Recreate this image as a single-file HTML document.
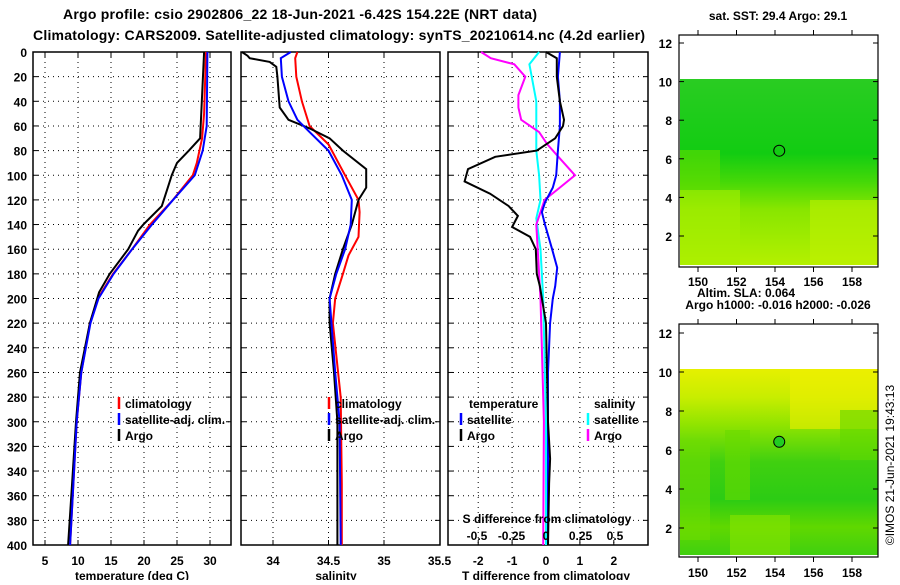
<!DOCTYPE html>
<html><head><meta charset="utf-8"><style>
body{margin:0;background:#fff;}
svg text{font-family:"Liberation Sans",Arial,sans-serif;font-weight:bold;fill:#000;}
</style></head><body>
<svg id="c" width="900" height="580" xmlns="http://www.w3.org/2000/svg">
<defs>
<linearGradient id="g1" x1="0" y1="0" x2="0" y2="1">
<stop offset="0" stop-color="#2acc22"/><stop offset="0.4" stop-color="#12cc12"/><stop offset="0.55" stop-color="#44d808"/><stop offset="0.7" stop-color="#88e600"/><stop offset="1" stop-color="#b4f000"/>
</linearGradient>
<linearGradient id="g2" x1="0" y1="0" x2="0" y2="1">
<stop offset="0" stop-color="#e6f000"/><stop offset="0.15" stop-color="#c8ee00"/><stop offset="0.3" stop-color="#90e400"/><stop offset="0.5" stop-color="#40d010"/><stop offset="0.7" stop-color="#2ccc14"/><stop offset="0.85" stop-color="#60d800"/><stop offset="1" stop-color="#40d010"/>
</linearGradient>
</defs>
<text x="63" y="19" font-size="14" textLength="474">Argo profile: csio 2902806_22 18-Jun-2021 -6.42S 154.22E (NRT data)</text>
<text x="33" y="40" font-size="14" textLength="612">Climatology: CARS2009. Satellite-adjusted climatology: synTS_20210614.nc (4.2d earlier)</text>
<g id="plots"></g>
<g id="maps"></g>
<text transform="translate(894,465) rotate(-90)" font-size="12" text-anchor="middle" style="font-weight:normal">©IMOS 21-Jun-2021 19:43:13</text>
</svg>
<script>
const tArgoDepth=[0,70,80,90,100,110,125,140,145,160,180,195,220,260,300,350,400];
const tArgo=[29.1,28.5,26.8,25,24.2,23.6,22.7,19.9,19.1,17.6,14.8,13.2,11.8,10.3,9.7,9.1,8.5];
const tClimDepth=[0,50,70,90,100,120,140,160,180,200,220,260,300,350,400];
const tClim=[29.4,29.1,28.8,28,27.4,24.4,20.9,18.2,15.3,13,11.8,10.5,9.8,9.3,8.8];
const tSatDepth=[0,60,80,100,120,140,160,180,200,220,260,300,350,400];
const tSat=[29.6,29.5,28.9,27.7,24.4,21.2,18.2,15.4,13.1,11.9,10.5,9.8,9.3,8.8];

const sArgoDepth=[0,3,5,8,12,20,45,55,62,70,80,95,110,120,140,160,180,200,220,260,300,400];
const sArgo=[33.72,33.77,33.79,33.97,34.03,34.04,34.06,34.14,34.33,34.51,34.63,34.84,34.84,34.77,34.71,34.63,34.56,34.51,34.51,34.55,34.58,34.58];
const sSatDepth=[0,5,20,40,55,65,80,100,120,140,160,180,200,260,300,400];
const sSat=[34.16,34.07,34.08,34.14,34.22,34.33,34.5,34.62,34.71,34.7,34.65,34.57,34.51,34.56,34.6,34.61];
const sClimDepth=[0,5,20,40,60,75,100,120,130,150,165,180,200,220,280,350,400];
const sClim=[34.22,34.2,34.21,34.26,34.33,34.5,34.65,34.77,34.78,34.77,34.68,34.63,34.56,34.54,34.61,34.62,34.62];

const dTArgoDepth=[0,5,20,40,55,60,70,80,85,95,105,115,125,133,142,150,160,180,190,200,220,300,330,350,400];
const dTArgo=[0,0.32,0.32,0.41,0.53,0.5,0.27,-0.27,-1.5,-2.3,-2.4,-1.65,-1.1,-0.83,-1.0,-0.47,-0.3,-0.27,-0.18,-0.12,0,0.06,0.12,0.09,0.06];
const dTSatDepth=[0,20,40,60,80,100,110,122,130,140,160,175,190,200,220,260,400];
const dTSat=[0.41,0.35,0.41,0.41,0.35,0.3,0.2,-0.03,-0.12,-0.03,0.18,0.33,0.27,0.2,0.12,0.06,0.06];
const dSSatDepth=[0,10,40,80,100,120,135,160,200,300,400];
const dSSat=[-0.05,-0.12,-0.07,-0.07,-0.05,-0.04,-0.07,-0.04,-0.02,0,0];
const dSArgoDepth=[0,5,10,20,35,45,55,65,75,85,100,110,120,130,140,160,200,300,400];
const dSArgo=[-0.47,-0.4,-0.23,-0.15,-0.2,-0.2,-0.18,-0.05,0.01,0.09,0.21,0.1,-0.01,-0.04,-0.07,-0.06,-0.04,-0.015,-0.02];

const depthTicks=[0,20,40,60,80,100,120,140,160,180,200,220,240,260,280,300,320,340,360,380,400];
const tTicks=[5,10,15,20,25,30];
const sTicks=[34,34.5,35,35.5];
const sTickLabels=["34","34.5","35","35.5"];
const dTicks=[-2,-1,0,1,2];
const dsTicks=[-0.5,-0.25,0,0.25,0.5];
const dsTickLabels=["-0.5","-0.25","0","0.25","0.5"];
const latTicks=[2,4,6,8,10,12];
const lonTicks=[150,152,154,156,158];

const NS='http://www.w3.org/2000/svg';
const plots=document.getElementById('plots');
const FS=12;
function mk(tag,attrs,parent,txt){const e=document.createElementNS(NS,tag);for(const k in attrs)e.setAttribute(k,attrs[k]);if(txt!==undefined)e.textContent=txt;(parent||plots).appendChild(e);return e;}
const Y0=52,Y1=545;
const yD=d=>Y0+d*(Y1-Y0)/400;
function lin(d0,d1,r0,r1){return v=>r0+(v-d0)*(r1-r0)/(d1-d0);}
const xT=lin(5,30,45,210);
const xS=lin(34,35,273,384);
const xD=lin(0,1,546,579.9);
const xDS=lin(0,0.5,546,615);

function panel(name,x0,x1,xs,ticks,xf,labels){
  const g=mk('g',{});
  
  
  ticks.forEach(t=>{const x=xf(t);if(x>x0+1&&x<x1-1){const l=mk('line',{x1:x,x2:x,y1:Y0,y2:Y1,stroke:'#000','stroke-width':1,'stroke-dasharray':'1 4'},g);
    
    mk('line',{x1:x,x2:x,y1:Y1,y2:Y1-5,stroke:'#000'},g);mk('line',{x1:x,x2:x,y1:Y0,y2:Y0+5,stroke:'#000'},g);}});
  depthTicks.forEach(d=>{const y=yD(d);if(d>0&&d<400){const l=mk('line',{x1:x0,x2:x1,y1:y,y2:y,stroke:'#000','stroke-width':1,'stroke-dasharray':'1 4'},g);
    }
    mk('line',{x1:x0,x2:x0+5,y1:y,y2:y,stroke:'#000'},g);mk('line',{x1:x1,x2:x1-5,y1:y,y2:y,stroke:'#000'},g);});
  const r=mk('rect',{x:x0,y:Y0,width:x1-x0,height:Y1-Y0,fill:'none',stroke:'#000','stroke-width':1.5},g);
  
  ticks.forEach((t,i)=>{const tx=mk('text',{x:xf(t),y:565,'font-size':FS,'text-anchor':'middle'},g,labels?labels[i]:String(t));
    });
  return g;
}
function line(g,ds,vs,xf,color,name){
  const pts=ds.map((d,i)=>xf(vs[i]).toFixed(1)+','+yD(d).toFixed(1)).join(' ');
  const p=mk('polyline',{points:pts,fill:'none',stroke:color,'stroke-width':2},g);
  
}
function legend(g,x,y,color,label,name){
  mk('line',{x1:x,x2:x,y1:y-11,y2:y+1,stroke:color,'stroke-width':2.5},g);
  const t=mk('text',{x:x+6,y:y,'font-size':FS},g,label);
  
}
depthTicks.forEach(d=>{const t=mk('text',{x:27,y:yD(d)+5,'font-size':FS,'text-anchor':'end'},plots,String(d));
  });

const p1=panel('temperature-panel',33,231,null,tTicks,xT);
line(p1,tClimDepth,tClim,xT,'#f00','climatology-temperature-line');
line(p1,tArgoDepth,tArgo,xT,'#000','argo-temperature-line');
line(p1,tSatDepth,tSat,xT,'#00f','satellite-adj-temperature-line');
legend(p1,119,408,'#f00','climatology','legend-climatology');
legend(p1,119,424,'#00f','satellite-adj. clim.','legend-satellite-adj');
legend(p1,119,440,'#000','Argo','legend-argo');
let at=mk('text',{x:132,y:580,'font-size':FS,'text-anchor':'middle'},p1,'temperature (deg C)');


const p2=panel('salinity-panel',241,440,null,sTicks,xS,sTickLabels);
line(p2,sClimDepth,sClim,xS,'#f00','climatology-salinity-line');
line(p2,sArgoDepth,sArgo,xS,'#000','argo-salinity-line');
line(p2,sSatDepth,sSat,xS,'#00f','satellite-adj-salinity-line');
legend(p2,329,408,'#f00','climatology','legend-climatology');
legend(p2,329,424,'#00f','satellite-adj. clim.','legend-satellite-adj');
legend(p2,329,440,'#000','Argo','legend-argo');
at=mk('text',{x:336,y:580,'font-size':FS,'text-anchor':'middle'},p2,'salinity');


const p3=panel('difference-panel',448,648,null,dTicks,xD);
line(p3,dSSatDepth,dSSat,xDS,'#0ff','satellite-salinity-diff-line');
line(p3,dSArgoDepth,dSArgo,xDS,'#f0f','argo-salinity-diff-line');
line(p3,dTSatDepth,dTSat,xD,'#00f','satellite-temperature-diff-line');
line(p3,dTArgoDepth,dTArgo,xD,'#000','argo-temperature-diff-line');
let lt=mk('text',{x:469,y:408,'font-size':FS},p3,'temperature');

lt=mk('text',{x:594,y:408,'font-size':FS},p3,'salinity');

legend(p3,461,424,'#00f','satellite','legend-temp-satellite');
legend(p3,461,440,'#000','Argo','legend-temp-argo');
legend(p3,588,424,'#0ff','satellite','legend-sal-satellite');
legend(p3,588,440,'#f0f','Argo','legend-sal-argo');
lt=mk('text',{x:547,y:523,'font-size':FS,'text-anchor':'middle'},p3,'S difference from climatology');

dsTicks.forEach((t,i)=>{const tx=mk('text',{x:xDS(t),y:540,'font-size':FS,'text-anchor':'middle'},p3,dsTickLabels[i]);
  });
at=mk('text',{x:546,y:580,'font-size':FS,'text-anchor':'middle'},p3,'T difference from climatology');


const maps=document.getElementById('maps');
function map(name,top,bot,y12,y2,colTop,colBot,grad,title,filled,lonY,blobs){
  const g=mk('g',{},maps);
  
  const yL=lin(12,2,y12,y2), xL=lin(150,158,698,852);
  const f=mk('rect',{x:680,y:colTop,width:198,height:colBot-colTop,fill:'url(#'+grad+')'},g);
  
  blobs.forEach(b=>mk('rect',{x:b[0],y:b[1],width:b[2],height:b[3],fill:b[4],opacity:0.6},g));
  const fr=mk('rect',{x:679,y:top,width:199,height:bot-top,fill:'none',stroke:'#000','stroke-width':1.2},g);
  
  latTicks.forEach(l=>{const y=yL(l);mk('line',{x1:679,x2:684,y1:y,y2:y,stroke:'#000'},g);mk('line',{x1:878,x2:873,y1:y,y2:y,stroke:'#000'},g);
    const t=mk('text',{x:672,y:y+5,'font-size':FS,'text-anchor':'end'},g,String(l));
    });
  lonTicks.forEach(l=>{const x=xL(l);mk('line',{x1:x,x2:x,y1:top,y2:top-5,stroke:'#000'},g);mk('line',{x1:x,x2:x,y1:bot,y2:bot+5,stroke:'#000'},g);
    const t=mk('text',{x:x,y:lonY,'font-size':FS,'text-anchor':'middle'},g,String(l));
    });
  const c=mk('circle',{cx:xL(154.22),cy:yL(6.42),r:5.5,fill:filled?'#22cc22':'none',stroke:'#000','stroke-width':1},g);
  
  const t=mk('text',{x:778,y:top-15,'font-size':FS,'text-anchor':'middle'},g,title);
  
}
map('sst-map',35,267,43,236,79,265,'g1','sat. SST: 29.4 Argo: 29.1',false,286,
  [[680,190,60,75,'#a8ee00'],[810,200,68,65,'#c0f000'],[680,150,40,40,'#60dc00']]);
map('sla-map',324,557,333,528,369,555,'g2','Argo h1000: -0.016 h2000: -0.026',true,577,
  [[790,369,88,60,'#f0ee00'],[680,440,30,100,'#70dc00'],[725,430,25,70,'#68da00'],[840,410,38,50,'#60d800'],[730,515,60,40,'#88e400']]);
let al=mk('text',{x:746,y:297,'font-size':FS,'text-anchor':'middle'},maps,'Altim. SLA: 0.064');

</script>
</body></html>
